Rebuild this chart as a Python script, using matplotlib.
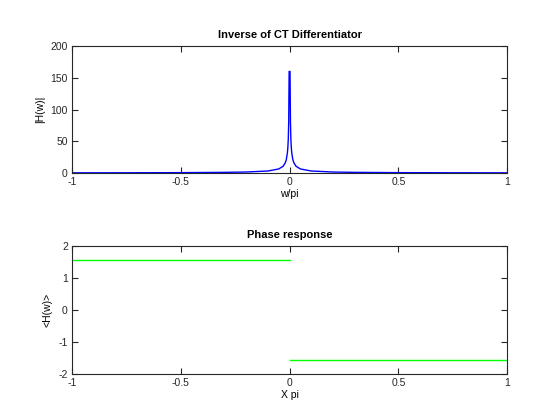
import numpy as np
import matplotlib
matplotlib.use("Agg")
import matplotlib.pyplot as plt

# Magnitude response (x in units of pi)
mag_x_pos = [0.002, 0.004, 0.006, 0.008, 0.01, 0.015, 0.02, 0.03, 0.05, 0.1, 0.2, 0.3, 0.5, 0.75, 1.0]
mag_y_pos = [160, 80, 53, 40, 32, 21, 16, 10.6, 6.4, 3.2, 1.6, 1.06, 0.64, 0.42, 0.32]

# Phase response
phase_x_neg = [-1.0, 0.0]
phase_y_neg = [1.5708, 1.5708]
phase_x_pos = [0.0, 1.0]
phase_y_pos = [-1.5708, -1.5708]

mag_x = [-v for v in mag_x_pos[::-1]] + mag_x_pos
mag_y = mag_y_pos[::-1] + mag_y_pos

plt.rcParams['font.family'] = ['Liberation Sans', 'DejaVu Sans']
plt.rcParams['axes.unicode_minus'] = False
fig = plt.figure(figsize=(5.6, 4.2), dpi=100)

ax1 = fig.add_axes([0.1286, 0.588, 0.777, 0.3025])
ax2 = fig.add_axes([0.1286, 0.1095, 0.777, 0.3045])

ax1.plot(mag_x, mag_y, color=(0, 0, 1), linewidth=1.0)
ax1.set_xlim(-1, 1)
ax1.set_ylim(0, 200)
ax1.set_xticks([-1, -0.5, 0, 0.5, 1])
ax1.set_xticklabels(['-1', '-0.5', '0', '0.5', '1'])
ax1.set_yticks([0, 50, 100, 150, 200])
ax1.set_title('Inverse of CT Differentiator', fontsize=8, fontweight='bold', pad=6)
ax1.set_xlabel('w/pi', fontsize=7.5, labelpad=1)
ax1.set_ylabel('|H(w)|', fontsize=7.5, labelpad=4)

ax2.plot(phase_x_neg, phase_y_neg, color=(0, 1, 0), linewidth=1)
ax2.plot(phase_x_pos, phase_y_pos, color=(0, 1, 0), linewidth=1)
ax2.set_xlim(-1, 1)
ax2.set_ylim(-2, 2)
ax2.set_xticks([-1, -0.5, 0, 0.5, 1])
ax2.set_xticklabels(['-1', '-0.5', '0', '0.5', '1'])
ax2.set_yticks([-2, -1, 0, 1, 2])
ax2.set_yticklabels(['-2', '-1', '0', '1', '2'])
ax2.set_title('Phase response', fontsize=8, fontweight='bold', pad=6)
ax2.set_xlabel('X pi', fontsize=7.5, labelpad=1)
ax2.set_ylabel('<H(w)>', fontsize=7.5, labelpad=4)

for ax in (ax1, ax2):
    ax.tick_params(direction='in', length=4, width=0.8, labelsize=7.5,
                   top=True, right=True, colors='#262626', labelcolor='#262626', pad=3)
    for s in ax.spines.values():
        s.set_color('#262626')
        s.set_linewidth(0.8)

fig.savefig('out.png', dpi=100)
